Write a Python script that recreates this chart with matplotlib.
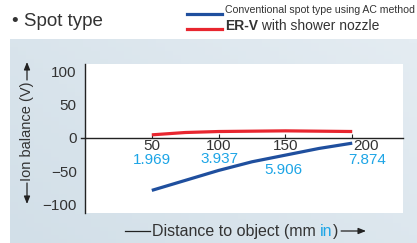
import numpy as np
import matplotlib.pyplot as plt
from matplotlib.transforms import ScaledTranslation
from matplotlib.lines import Line2D

plt.rcParams['font.family'] = ['Liberation Sans', 'DejaVu Sans']

# data
mm = [50, 75, 100, 125, 150, 175, 200]
conventional = [-79, -64, -49, -36, -26, -16, -8]
er_v = [4.5, 8, 9.5, 10, 10.5, 10, 9.5]
x_ticks = [50, 100, 150, 200]
y_ticks = [-100, -50, 0, 50, 100]
inch_labels = ['1.969', '3.937', '5.906', '7.874']

BLUE = '#1f4f9e'
RED = '#e8262f'
SKY = '#1da5e6'
DARK = '#333333'

W, H = 417, 243
fig = plt.figure(figsize=(W / 100, H / 100), dpi=100)

def fp(x, y):
    # pixel (from top-left) -> figure fraction
    return (x / W, 1 - y / H)

# light panel behind the chart
bg = fig.add_axes([10 / W, 0, 1 - 10 / W, (H - 39) / H])
gx, gy = np.meshgrid(np.linspace(0, 1, 50), np.linspace(0, 1, 50))
t = 0.6 * gx + 0.4 * (1 - gy)
c0 = np.array([210, 223, 232]) / 255
c1 = np.array([228, 236, 242]) / 255
img = c0[None, None, :] * (1 - t[..., None]) + c1[None, None, :] * t[..., None]
bg.imshow(img, aspect='auto', extent=[0, 1, 0, 1])
bg.axis('off')

ax = fig.add_axes([85 / W, (H - 213) / H, (403 - 85) / W, (213 - 64) / H])
ax.set_facecolor('white')
ax.plot(mm, er_v, color=RED, lw=2.3, solid_capstyle='butt', zorder=3)
ax.plot(mm, conventional, color=BLUE, lw=2.3, solid_capstyle='butt', zorder=3)
ax.set_xlim(0, 238)
ax.set_ylim(-113, 111)

for s in ['top', 'right']:
    ax.spines[s].set_visible(False)
ax.spines['left'].set_color('#222222')
ax.spines['left'].set_linewidth(1.0)
ax.spines['bottom'].set_position(('data', 0))
ax.spines['bottom'].set_color('#222222')
ax.spines['bottom'].set_linewidth(1.0)
ax.add_line(Line2D([-0.012, 0], [0.5045, 0.5045], transform=ax.transAxes,
                   color='#222222', lw=1.0, clip_on=False))

ax.set_xticks(x_ticks)
ax.set_xticklabels([str(v) for v in x_ticks])
ax.tick_params(axis='x', direction='in', length=3, width=0.8, color='#222222',
               pad=1, labelsize=11, labelcolor=DARK)
ax.set_yticks(y_ticks)
ax.set_yticklabels([str(v).replace('-', '\u2212') for v in y_ticks])
ax.tick_params(axis='y', length=0, pad=6, labelsize=11, labelcolor=DARK)
last = ax.get_xticklabels()[-1]
last.set_transform(last.get_transform() + ScaledTranslation(14 / 100, 0, fig.dpi_scale_trans))

# inch equivalents under the mm ticks
inch_offsets = [(0, -33), (1, -32), (-2, -48), (15, -33)]
for xv, lab, (dx, yv) in zip(x_ticks, inch_labels, inch_offsets):
    ax.annotate(lab, xy=(xv, yv), xytext=(dx * 0.72, 0), textcoords='offset points',
                ha='center', va='center', fontsize=11, color=SKY)

# y label with arrows
fig.text(*fp(27, 131), 'Ion balance (V)', rotation=90, ha='center', va='center',
         fontsize=10.5, color=DARK)
arrow = dict(arrowstyle='-|>,head_length=0.45,head_width=0.18', color='#222222',
             lw=0.9, shrinkA=0, shrinkB=0)
ax.annotate('', xy=fp(27, 62), xytext=fp(27, 80), xycoords='figure fraction',
            textcoords='figure fraction', arrowprops=arrow, annotation_clip=False)
ax.annotate('', xy=fp(27, 204), xytext=fp(27, 183), xycoords='figure fraction',
            textcoords='figure fraction', arrowprops=arrow, annotation_clip=False)

# x label with arrow and blue "in"
fig.add_artist(Line2D([125 / W, 150 / W], [fp(0, 231)[1]] * 2, color='#222222', lw=0.9))
fig.canvas.draw()
r = fig.canvas.get_renderer()
x0 = 152
for part, col in [('Distance to object (mm ', DARK), ('in', SKY), (')', DARK)]:
    tx = fig.text(*fp(x0, 231), part, ha='left', va='center', fontsize=11.5, color=col)
    x0 += tx.get_window_extent(r).width
ax.annotate('', xy=fp(366, 231), xytext=fp(x0 + 3, 231), xycoords='figure fraction',
            textcoords='figure fraction', arrowprops=arrow, annotation_clip=False)

# title
fig.text(*fp(12, 21), '\u2022 Spot type', ha='left', va='center', fontsize=13.5, color=DARK)

# legend
fig.add_artist(Line2D([187 / W, 222 / W], [fp(0, 14)[1]] * 2, color=BLUE, lw=2.3))
fig.add_artist(Line2D([187 / W, 222 / W], [fp(0, 29)[1]] * 2, color=RED, lw=2.3))
fig.text(*fp(225, 10), 'Conventional spot type using AC method', ha='left', va='center',
         fontsize=7.6, color=DARK)
tb = fig.text(*fp(225, 26), 'ER-V', ha='left', va='center', fontsize=10,
              fontweight='bold', color=DARK)
wb = tb.get_window_extent(r).width
fig.text(*fp(225 + wb, 26), ' with shower nozzle', ha='left', va='center',
         fontsize=10, color=DARK)

fig.savefig('out.png', dpi=100)
